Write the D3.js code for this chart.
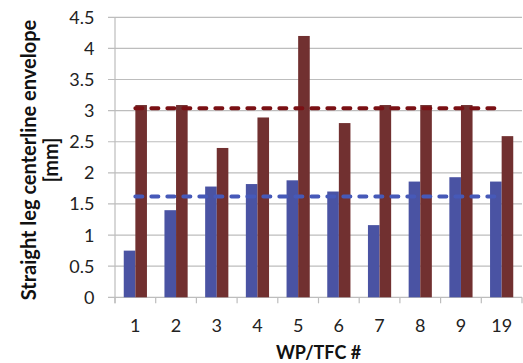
<!DOCTYPE html>
<html><head><meta charset="utf-8">
<script src="https://cdn.jsdelivr.net/npm/d3@7"></script>
<style>body{margin:0;background:#fff}svg{display:block}</style>
</head><body>
<svg id="c" width="523" height="363"></svg>
<script>
const categories = ["1","2","3","4","5","6","7","8","9","19"];
const blueValues = [0.75,1.40,1.78,1.82,1.88,1.70,1.16,1.86,1.93,1.86];
const redValues  = [3.09,3.09,2.40,2.89,4.20,2.80,3.09,3.09,3.09,2.59];
const blueAverage = 1.62;
const redAverage = 3.04;
const yTicks = [0,0.5,1,1.5,2,2.5,3,3.5,4,4.5];
const yTickLabels = ["0","0.5","1","1.5","2","2.5","3","3.5","4","4.5"];
const yTitle = ["Straight leg centerline envelope","[mm]"];
const xTitle = "WP/TFC #";

const svg = d3.select("#c");
const L = 115, R = 522, T = 17.3, B = 297.3;
const font = "Lato, 'Open Sans', sans-serif";

const x0 = d3.scaleBand().domain(categories).range([L, R]).paddingInner(0.43).paddingOuter(0.215);
const x1 = d3.scaleBand().domain(["b","r"]).range([0, x0.bandwidth()]);
const y = d3.scaleLinear().domain([0, 4.5]).range([B, T]);

// gridlines
svg.append("g").selectAll("line").data(yTicks).join("line")
  .attr("x1", L - 7).attr("x2", R).attr("y1", d => y(d)).attr("y2", d => y(d))
  .attr("stroke", "#bdbdbd").attr("stroke-width", 1.2);
// y axis line
svg.append("line").attr("x1", L).attr("x2", L).attr("y1", T).attr("y2", B + 6)
  .attr("stroke", "#bdbdbd").attr("stroke-width", 1.2);
// x tick marks at boundaries
const bounds = categories.map(c => x0(c) - x0.step()*x0.paddingInner()/2).concat([R]);
svg.append("g").selectAll("line").data(bounds).join("line")
  .attr("x1", d => d).attr("x2", d => d).attr("y1", B).attr("y2", B + 6)
  .attr("stroke", "#bdbdbd").attr("stroke-width", 1.2);

// bars
const g = svg.append("g");
g.selectAll("rect.b").data(categories).join("rect").attr("class","b")
  .attr("x", c => x0(c) + x1("b")).attr("width", x1.bandwidth())
  .attr("y", (c,i) => y(blueValues[i])).attr("height", (c,i) => y(0) - y(blueValues[i]))
  .attr("fill", "#4a53a3");
g.selectAll("rect.r").data(categories).join("rect").attr("class","r")
  .attr("x", c => x0(c) + x1("r")).attr("width", x1.bandwidth())
  .attr("y", (c,i) => y(redValues[i])).attr("height", (c,i) => y(0) - y(redValues[i]))
  .attr("fill", "#713030");

// average dashed lines
const cx = c => x0(c) + x0.bandwidth()/2;
const lineData = [[redAverage, "#7a1014"], [blueAverage, "#4659b8"]];
svg.append("g").selectAll("line").data(lineData).join("line")
  .attr("x1", cx(categories[0])).attr("x2", cx(categories[categories.length-1]))
  .attr("y1", d => y(d[0])).attr("y2", d => y(d[0]))
  .attr("stroke", d => d[1]).attr("stroke-width", 4)
  .attr("stroke-dasharray", "7,9").attr("stroke-linecap", "round");

// y tick labels
svg.append("g").selectAll("text").data(yTicks).join("text")
  .attr("x", 94.5).attr("y", d => y(d)).attr("dy", "0.36em")
  .attr("text-anchor", "end").attr("font-family", font).attr("font-size", 18)
  .attr("fill", "#222").text((d,i) => yTickLabels[i]);
// x tick labels
svg.append("g").selectAll("text").data(categories).join("text")
  .attr("x", c => cx(c)).attr("y", 326).attr("dy", "0.36em")
  .attr("text-anchor", "middle").attr("font-family", font).attr("font-size", 18)
  .attr("fill", "#222").text(c => c);
// titles
svg.append("text").attr("x", (L+R)/2).attr("y", 359)
  .attr("text-anchor", "middle").attr("font-family", font).attr("font-weight", "bold")
  .attr("font-size", 18).attr("fill", "#111").text(xTitle);
const yt = svg.append("text").attr("transform", `translate(0,160) rotate(-90)`)
  .attr("text-anchor", "middle").attr("font-family", font).attr("font-weight", "bold")
  .attr("font-size", 20).attr("fill", "#111");
yt.append("tspan").attr("x", 0).attr("y", 36).text(yTitle[0]);
yt.append("tspan").attr("x", 0).attr("y", 58).text(yTitle[1]);
</script>
</body></html>
